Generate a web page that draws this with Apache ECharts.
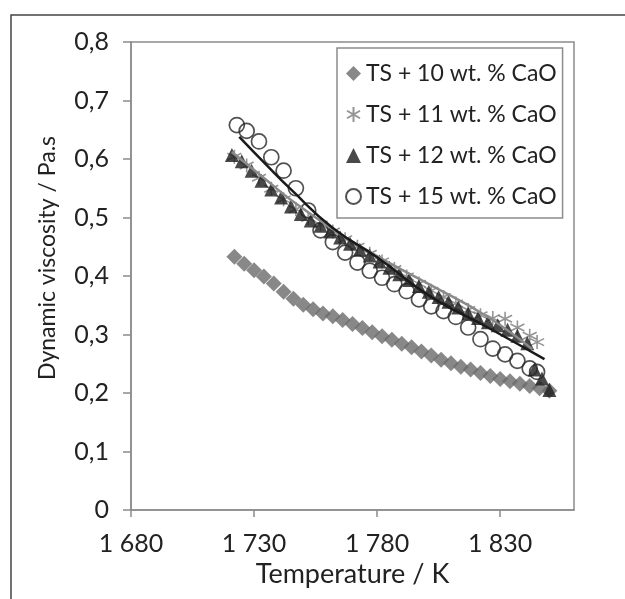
<!DOCTYPE html>
<html>
<head>
<meta charset="utf-8">
<script src="https://cdn.jsdelivr.net/npm/echarts@6/dist/echarts.min.js"></script>
<style>
  html, body { margin: 0; padding: 0; background: #ffffff; }
  #chart { width: 625px; height: 599px; }
</style>
</head>
<body>
<div id="chart"></div>
<script>
// Axis ticks
const xTicks = [1680, 1730, 1780, 1830];
const yTicks = [0, 0.1, 0.2, 0.3, 0.4, 0.5, 0.6, 0.7, 0.8];

// Series names
const seriesNames = ['TS + 10 wt. % CaO', 'TS + 11 wt. % CaO', 'TS + 12 wt. % CaO', 'TS + 15 wt. % CaO'];

// TS + 10 wt. % CaO
const temp10 = [1722, 1726, 1730, 1734, 1738, 1742, 1746, 1750, 1754, 1758, 1762, 1766, 1770, 1774, 1778, 1782,
  1786, 1790, 1794, 1798, 1802, 1806, 1810, 1814, 1818, 1822, 1826, 1830, 1834, 1838, 1842, 1846, 1850];
const visc10 = [0.433, 0.421, 0.410, 0.399, 0.387, 0.373, 0.361, 0.351, 0.343, 0.336, 0.331, 0.325, 0.318, 0.311, 0.304, 0.297,
  0.291, 0.284, 0.278, 0.271, 0.264, 0.257, 0.251, 0.245, 0.240, 0.234, 0.229, 0.224, 0.220, 0.216, 0.212, 0.208, 0.204];

// TS + 11 wt. % CaO
const temp11 = [1722, 1727, 1732, 1737, 1742, 1747, 1752, 1757, 1762, 1767, 1772, 1777, 1782, 1787, 1792, 1797,
  1802, 1807, 1812, 1817, 1822, 1827, 1832, 1837, 1842, 1845];
const visc11 = [0.604, 0.589, 0.568, 0.549, 0.531, 0.514, 0.499, 0.488, 0.476, 0.463, 0.450, 0.438, 0.425, 0.412, 0.399, 0.387,
  0.375, 0.364, 0.353, 0.342, 0.333, 0.328, 0.327, 0.312, 0.298, 0.287];

// TS + 12 wt. % CaO
const temp12 = [1721, 1725, 1729, 1733, 1737, 1741, 1745, 1749, 1753, 1757, 1761, 1765, 1769, 1773, 1777, 1781,
  1785, 1789, 1793, 1797, 1801, 1805, 1809, 1813, 1817, 1821, 1825, 1829, 1833, 1837, 1841, 1844, 1847, 1850];
const visc12 = [0.607, 0.596, 0.580, 0.563, 0.548, 0.534, 0.519, 0.506, 0.495, 0.486, 0.476, 0.466, 0.455, 0.445, 0.435, 0.425,
  0.414, 0.403, 0.393, 0.383, 0.373, 0.364, 0.356, 0.346, 0.336, 0.328, 0.321, 0.316, 0.308, 0.298, 0.285, 0.240, 0.225, 0.205];

// TS + 15 wt. % CaO
const temp15 = [1723, 1727, 1732, 1737, 1742, 1747, 1752, 1757, 1762, 1767, 1772, 1777, 1782, 1787, 1792, 1797,
  1802, 1807, 1812, 1817, 1822, 1827, 1832, 1837, 1842, 1845];
const visc15 = [0.658, 0.648, 0.630, 0.603, 0.580, 0.550, 0.512, 0.478, 0.458, 0.440, 0.423, 0.409, 0.397, 0.386, 0.374, 0.360,
  0.348, 0.340, 0.330, 0.312, 0.292, 0.276, 0.266, 0.255, 0.242, 0.236];

// Fitted curves
const fitTempDark = [1724, 1735, 1745, 1762, 1780, 1802, 1825, 1848];
const fitViscDark = [0.638, 0.590, 0.548, 0.482, 0.432, 0.364, 0.312, 0.258];
const fitTempGrey = [1721, 1735, 1745, 1762, 1780, 1802, 1825, 1843];
const fitViscGrey = [0.612, 0.564, 0.530, 0.480, 0.434, 0.384, 0.330, 0.275];

const FONT = 'Lato';
const TEXT = '#222222';
const AXIS = '#8c8c8c';
const zip = (xs, ys) => xs.map((x, i) => [x, ys[i]]);

const chart = echarts.init(document.getElementById('chart'), null, { renderer: 'canvas' });

const option = {
  backgroundColor: '#ffffff',
  animation: false,
  textStyle: { fontFamily: FONT },
  graphic: [{
    type: 'polyline',
    shape: { points: [[11, 599], [11, 15], [625, 15]] },
    style: { stroke: '#444', lineWidth: 1.5, fill: null },
    silent: true
  }],
  grid: {
    left: 131, right: 51, top: 42, bottom: 89,
    show: true, borderColor: AXIS, borderWidth: 1.5, backgroundColor: '#ffffff'
  },
  legend: {
    orient: 'vertical',
    left: 337, top: 48,
    width: 231,
    padding: [14, 6, 10, 8],
    itemGap: 18,
    itemWidth: 15, itemHeight: 15,
    borderColor: AXIS, borderWidth: 1.5,
    backgroundColor: '#ffffff',
    textStyle: { fontFamily: FONT, fontSize: 23, color: TEXT },
    data: seriesNames
  },
  xAxis: {
    type: 'value',
    min: 1680, max: 1860,
    name: 'Temperature / K',
    nameLocation: 'middle',
    nameGap: 47,
    nameTextStyle: { fontFamily: FONT, fontSize: 27, color: TEXT },
    axisLine: { lineStyle: { color: AXIS, width: 1.5 } },
    axisTick: { show: true, length: 7, customValues: xTicks, lineStyle: { color: AXIS, width: 1.5 } },
    axisLabel: {
      customValues: xTicks,
      margin: 21,
      fontFamily: FONT, fontSize: 25, color: TEXT,
      formatter: v => String(v).replace(/^(\d)(\d{3})$/, '$1 $2')
    },
    splitLine: { show: false }
  },
  yAxis: {
    type: 'value',
    min: 0, max: 0.8, interval: 0.1,
    name: 'Dynamic viscosity / Pa.s',
    nameLocation: 'middle',
    nameGap: 72,
    nameTextStyle: { fontFamily: FONT, fontSize: 23, color: TEXT, padding: [0, 0, 0, 36] },
    axisLine: { show: true, lineStyle: { color: AXIS, width: 1.5 } },
    axisTick: { show: true, length: 8, lineStyle: { color: AXIS, width: 1.5 } },
    axisLabel: {
      margin: 22,
      fontFamily: FONT, fontSize: 25, color: TEXT,
      formatter: v => {
        const i = yTicks.findIndex(t => Math.abs(t - v) < 1e-9);
        return i < 0 ? '' : (i === 0 ? '0' : yTicks[i].toFixed(1).replace('.', ','));
      }
    },
    splitLine: { show: false }
  },
  series: [
    {
      name: seriesNames[0], type: 'scatter',
      symbol: 'diamond', symbolSize: 16,
      itemStyle: { color: '#6a6a6a' },
      data: zip(temp10, visc10), z: 2
    },
    {
      name: seriesNames[1], type: 'scatter',
      symbol: 'path://M0,-10L0,10M-8.66,-5L8.66,5M-8.66,5L8.66,-5',
      symbolSize: 14,
      itemStyle: { color: 'rgba(0,0,0,0)', borderColor: '#7a7a7a', borderWidth: 1.6 },
      data: zip(temp11, visc11), z: 3
    },
    {
      name: seriesNames[2], type: 'scatter',
      symbol: 'triangle', symbolSize: 14,
      itemStyle: { color: '#1c1c1c' },
      data: zip(temp12, visc12), z: 4
    },
    {
      name: seriesNames[3], type: 'scatter',
      symbol: 'circle', symbolSize: 15,
      itemStyle: { color: 'rgba(255,255,255,0)', borderColor: '#262626', borderWidth: 1.7 },
      data: zip(temp15, visc15), z: 5
    },
    {
      type: 'line', smooth: true, showSymbol: false, silent: true,
      lineStyle: { color: '#8a8a8a', width: 2.5 },
      data: zip(fitTempGrey, fitViscGrey), z: 6
    },
    {
      type: 'line', smooth: true, showSymbol: false, silent: true,
      lineStyle: { color: '#1a1a1a', width: 2.5 },
      data: zip(fitTempDark, fitViscDark), z: 7
    }
  ]
};

chart.setOption(option);
</script>
</body>
</html>
